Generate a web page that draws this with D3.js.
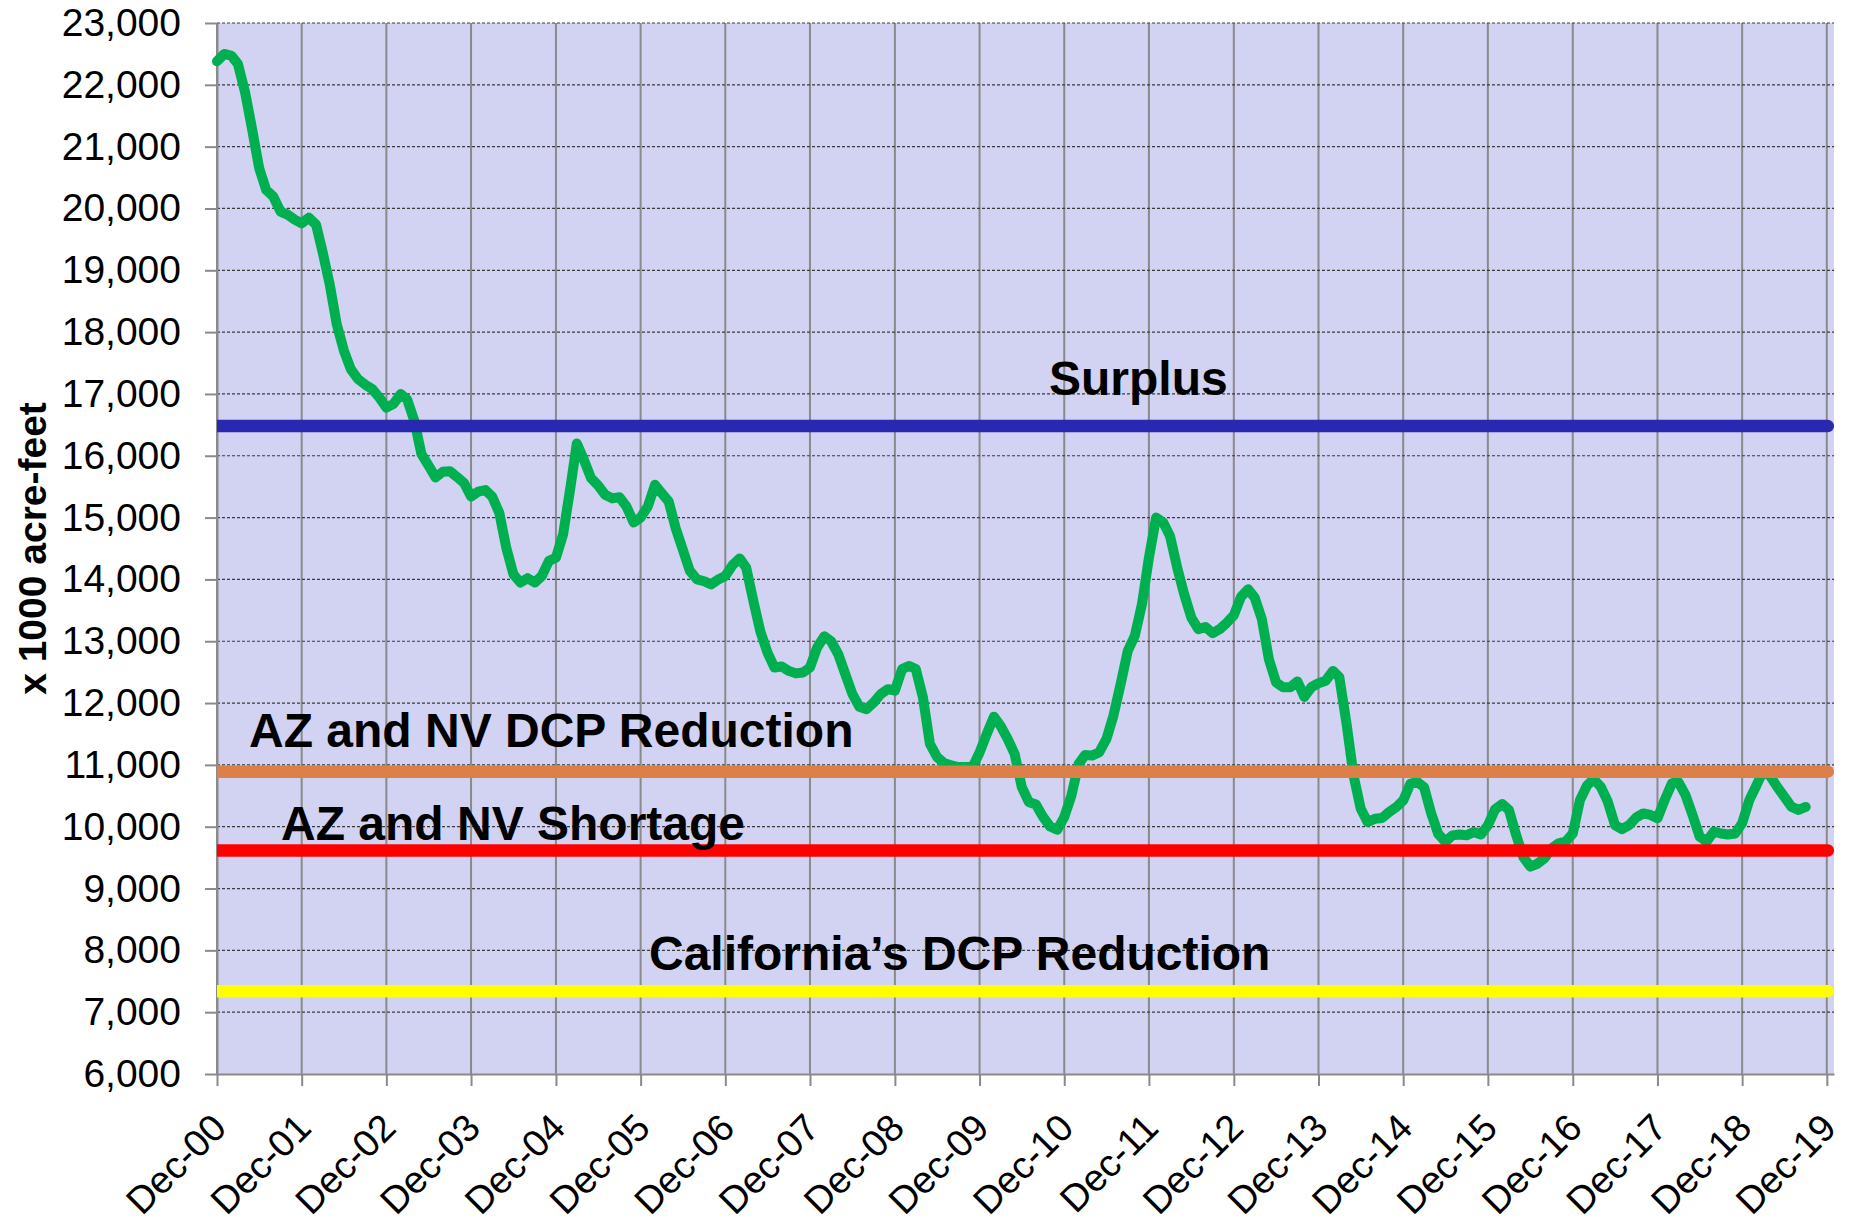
<!DOCTYPE html>
<html>
<head>
<meta charset="utf-8">
<script src="https://cdn.jsdelivr.net/npm/d3@7"></script>
<style>
  body { margin: 0; background: #fff; }
  text { font-family: "Liberation Sans", Arial, sans-serif; }
</style>
</head>
<body>
<div id="chart"></div>
<script>
// monthly storage in x 1000 acre-feet, first value is Dec 2000
const storage = [
  22380, 22500, 22470, 22340, 21880, 21290, 20650, 20300, 20190, 19950, 19900, 19820,
  19760, 19850, 19740, 19300, 18770, 18130, 17700, 17400, 17240, 17150, 17080, 16940,
  16780, 16840, 17000, 16910, 16560, 16030, 15840, 15650, 15740, 15750, 15660, 15560,
  15340, 15420, 15445, 15340, 15075, 14510, 14080, 13950, 14020, 13950, 14055, 14300,
  14350, 14730, 15480, 16200, 15930, 15640, 15520, 15370, 15310, 15330, 15180, 14920,
  15000, 15180, 15530, 15400, 15260, 14830, 14480, 14140, 14000, 13970, 13920, 14000,
  14055, 14230, 14340, 14190, 13650, 13160, 12815, 12575, 12590, 12520, 12480, 12495,
  12575, 12900, 13080, 13000, 12790, 12470, 12145, 11940, 11900, 12010, 12145, 12225,
  12200, 12550, 12600, 12550, 12090, 11340, 11125, 11030, 10990, 10965, 10965, 10965,
  11200, 11500, 11780, 11635, 11420, 11180, 10640, 10400, 10360, 10155, 10005, 9950,
  10155, 10505, 11015, 11160, 11150, 11205, 11420, 11795, 12305, 12845, 13085, 13600,
  14350, 15000, 14920, 14700, 14190, 13760, 13380, 13195, 13230, 13130, 13195, 13300,
  13420, 13720, 13840, 13705, 13355, 12710, 12335, 12255, 12255, 12350, 12100, 12260,
  12320, 12360, 12520, 12415, 11660, 10830, 10290, 10075, 10130, 10140, 10235, 10315,
  10425, 10695, 10720, 10640, 10210, 9885, 9755, 9860, 9875, 9860, 9915, 9875,
  10020, 10280, 10365, 10270, 9865, 9515, 9355, 9400, 9490, 9650, 9730, 9760,
  9890, 10430, 10670, 10770, 10645, 10405, 10025, 9960, 10025, 10150, 10215, 10190,
  10135, 10430, 10700, 10725, 10510, 10190, 9840, 9760, 9920, 9890, 9875, 9890,
  10055, 10430, 10670, 10900, 10820, 10645, 10485, 10325, 10270, 10320
];

const thresholdNames = ["Surplus", "AZ and NV DCP Reduction", "AZ and NV Shortage", "California\u2019s DCP Reduction"];
const thresholdValues = [16480, 10890, 9615, 7340];
const thresholdColors = ["#2828b0", "#dc7f48", "#ff0000", "#ffff00"];

const xTickLabels = ["Dec-00", "Dec-01", "Dec-02", "Dec-03", "Dec-04", "Dec-05", "Dec-06", "Dec-07",
  "Dec-08", "Dec-09", "Dec-10", "Dec-11", "Dec-12", "Dec-13", "Dec-14", "Dec-15", "Dec-16",
  "Dec-17", "Dec-18", "Dec-19"];
const yTicks = [6000, 7000, 8000, 9000, 10000, 11000, 12000, 13000, 14000, 15000, 16000,
  17000, 18000, 19000, 20000, 21000, 22000, 23000];

// label placement (px from plot left / px above the line)
const labelX = [832, 32, 64, 432];
const labelLift = [31, 25, 11, 21];

var margin = { top: 23, right: 17, bottom: 151, left: 217 },
    width = 1851 - margin.left - margin.right,
    height = 1225 - margin.top - margin.bottom;

var start = new Date(2000, 11, 1);
var data = storage.map((v, i) => ({ date: d3.timeMonth.offset(start, i), value: v }));
var tickDates = xTickLabels.map((l, i) => d3.timeMonth.offset(start, 12 * i));

var svg = d3.select("#chart")
    .append("svg")
    .attr("width", width + margin.left + margin.right)
    .attr("height", height + margin.top + margin.bottom)
    .append("g")
    .attr("transform", "translate(" + margin.left + "," + margin.top + ")");

var x = d3.scaleTime()
    .domain([start, d3.timeMonth.offset(start, 229)])
    .range([0, width]);

var y = d3.scaleLinear()
    .domain([6000, 23000])
    .range([height, 0]);

// plot background
svg.append("rect")
    .attr("width", width)
    .attr("height", height)
    .attr("fill", "#d2d2f2");

// vertical grid
svg.append("g")
    .selectAll("line")
    .data(tickDates)
    .join("line")
    .attr("x1", d => x(d)).attr("x2", d => x(d))
    .attr("y1", 0).attr("y2", height)
    .attr("stroke", "#8a8a8a")
    .attr("stroke-width", 2);

// horizontal dotted grid
svg.append("g")
    .selectAll("line")
    .data(yTicks.slice(1))
    .join("line")
    .attr("x1", 0).attr("x2", width)
    .attr("y1", d => y(d)).attr("y2", d => y(d))
    .attr("stroke", "#3a3a3a")
    .attr("stroke-width", 1.2)
    .attr("stroke-dasharray", "3,2");

//Y axis
var yAxis = svg.append("g")
    .call(d3.axisLeft(y).tickValues(yTicks).tickSize(12).tickSizeOuter(0).tickPadding(24)
        .tickFormat(d3.format(",")));
yAxis.select(".domain").attr("stroke", "#8a8a8a").attr("stroke-width", 2);
yAxis.selectAll(".tick line").attr("stroke", "#8a8a8a").attr("stroke-width", 2);
yAxis.selectAll("text")
    .style("font-size", "39px")
    .attr("fill", "#000");

svg.append("text")
    .attr("transform", "rotate(-90)")
    .attr("x", -height / 2)
    .attr("y", -171)
    .attr("text-anchor", "middle")
    .style("font-weight", "bold")
    .style("font-size", "39px")
    .text("x 1000 acre-feet");

//X axis
var xAxis = svg.append("g")
    .attr("transform", "translate(0," + height + ")")
    .call(d3.axisBottom(x).tickValues(tickDates).tickSize(12).tickSizeOuter(0)
        .tickFormat((d, i) => xTickLabels[i]));
xAxis.select(".domain").attr("stroke", "#8a8a8a").attr("stroke-width", 2);
xAxis.selectAll(".tick line").attr("stroke", "#8a8a8a").attr("stroke-width", 2);
xAxis.selectAll("text")
    .attr("x", 0).attr("y", 0).attr("dy", 0)
    .attr("text-anchor", "end")
    .attr("transform", "translate(11,56) rotate(-45)")
    .style("font-size", "38px")
    .attr("fill", "#000");

// storage line
svg.append("path")
    .datum(data)
    .attr("fill", "none")
    .attr("stroke", "#00b050")
    .attr("stroke-width", 10)
    .attr("stroke-linejoin", "round")
    .attr("stroke-linecap", "round")
    .attr("d", d3.line()
        .x(d => x(d.date))
        .y(d => y(d.value)));

// threshold lines
svg.append("clipPath")
    .attr("id", "clip")
    .append("rect")
    .attr("x", 0).attr("y", -20)
    .attr("width", width + 20).attr("height", height + 40);

var endDate = tickDates[tickDates.length - 1];
svg.append("g")
    .attr("clip-path", "url(#clip)")
    .selectAll("line")
    .data(thresholdValues)
    .join("line")
    .attr("x1", x(start) - 10).attr("x2", x(endDate) + 1)
    .attr("y1", d => y(d)).attr("y2", d => y(d))
    .attr("stroke", (d, i) => thresholdColors[i])
    .attr("stroke-width", 12.5)
    .attr("stroke-linecap", "round");

svg.append("g")
    .selectAll("text")
    .data(thresholdNames)
    .join("text")
    .attr("x", (d, i) => labelX[i])
    .attr("y", (d, i) => y(thresholdValues[i]) - labelLift[i])
    .style("font-weight", "bold")
    .style("font-size", "48px")
    .attr("fill", "#000")
    .text(d => d);
</script>
</body>
</html>
